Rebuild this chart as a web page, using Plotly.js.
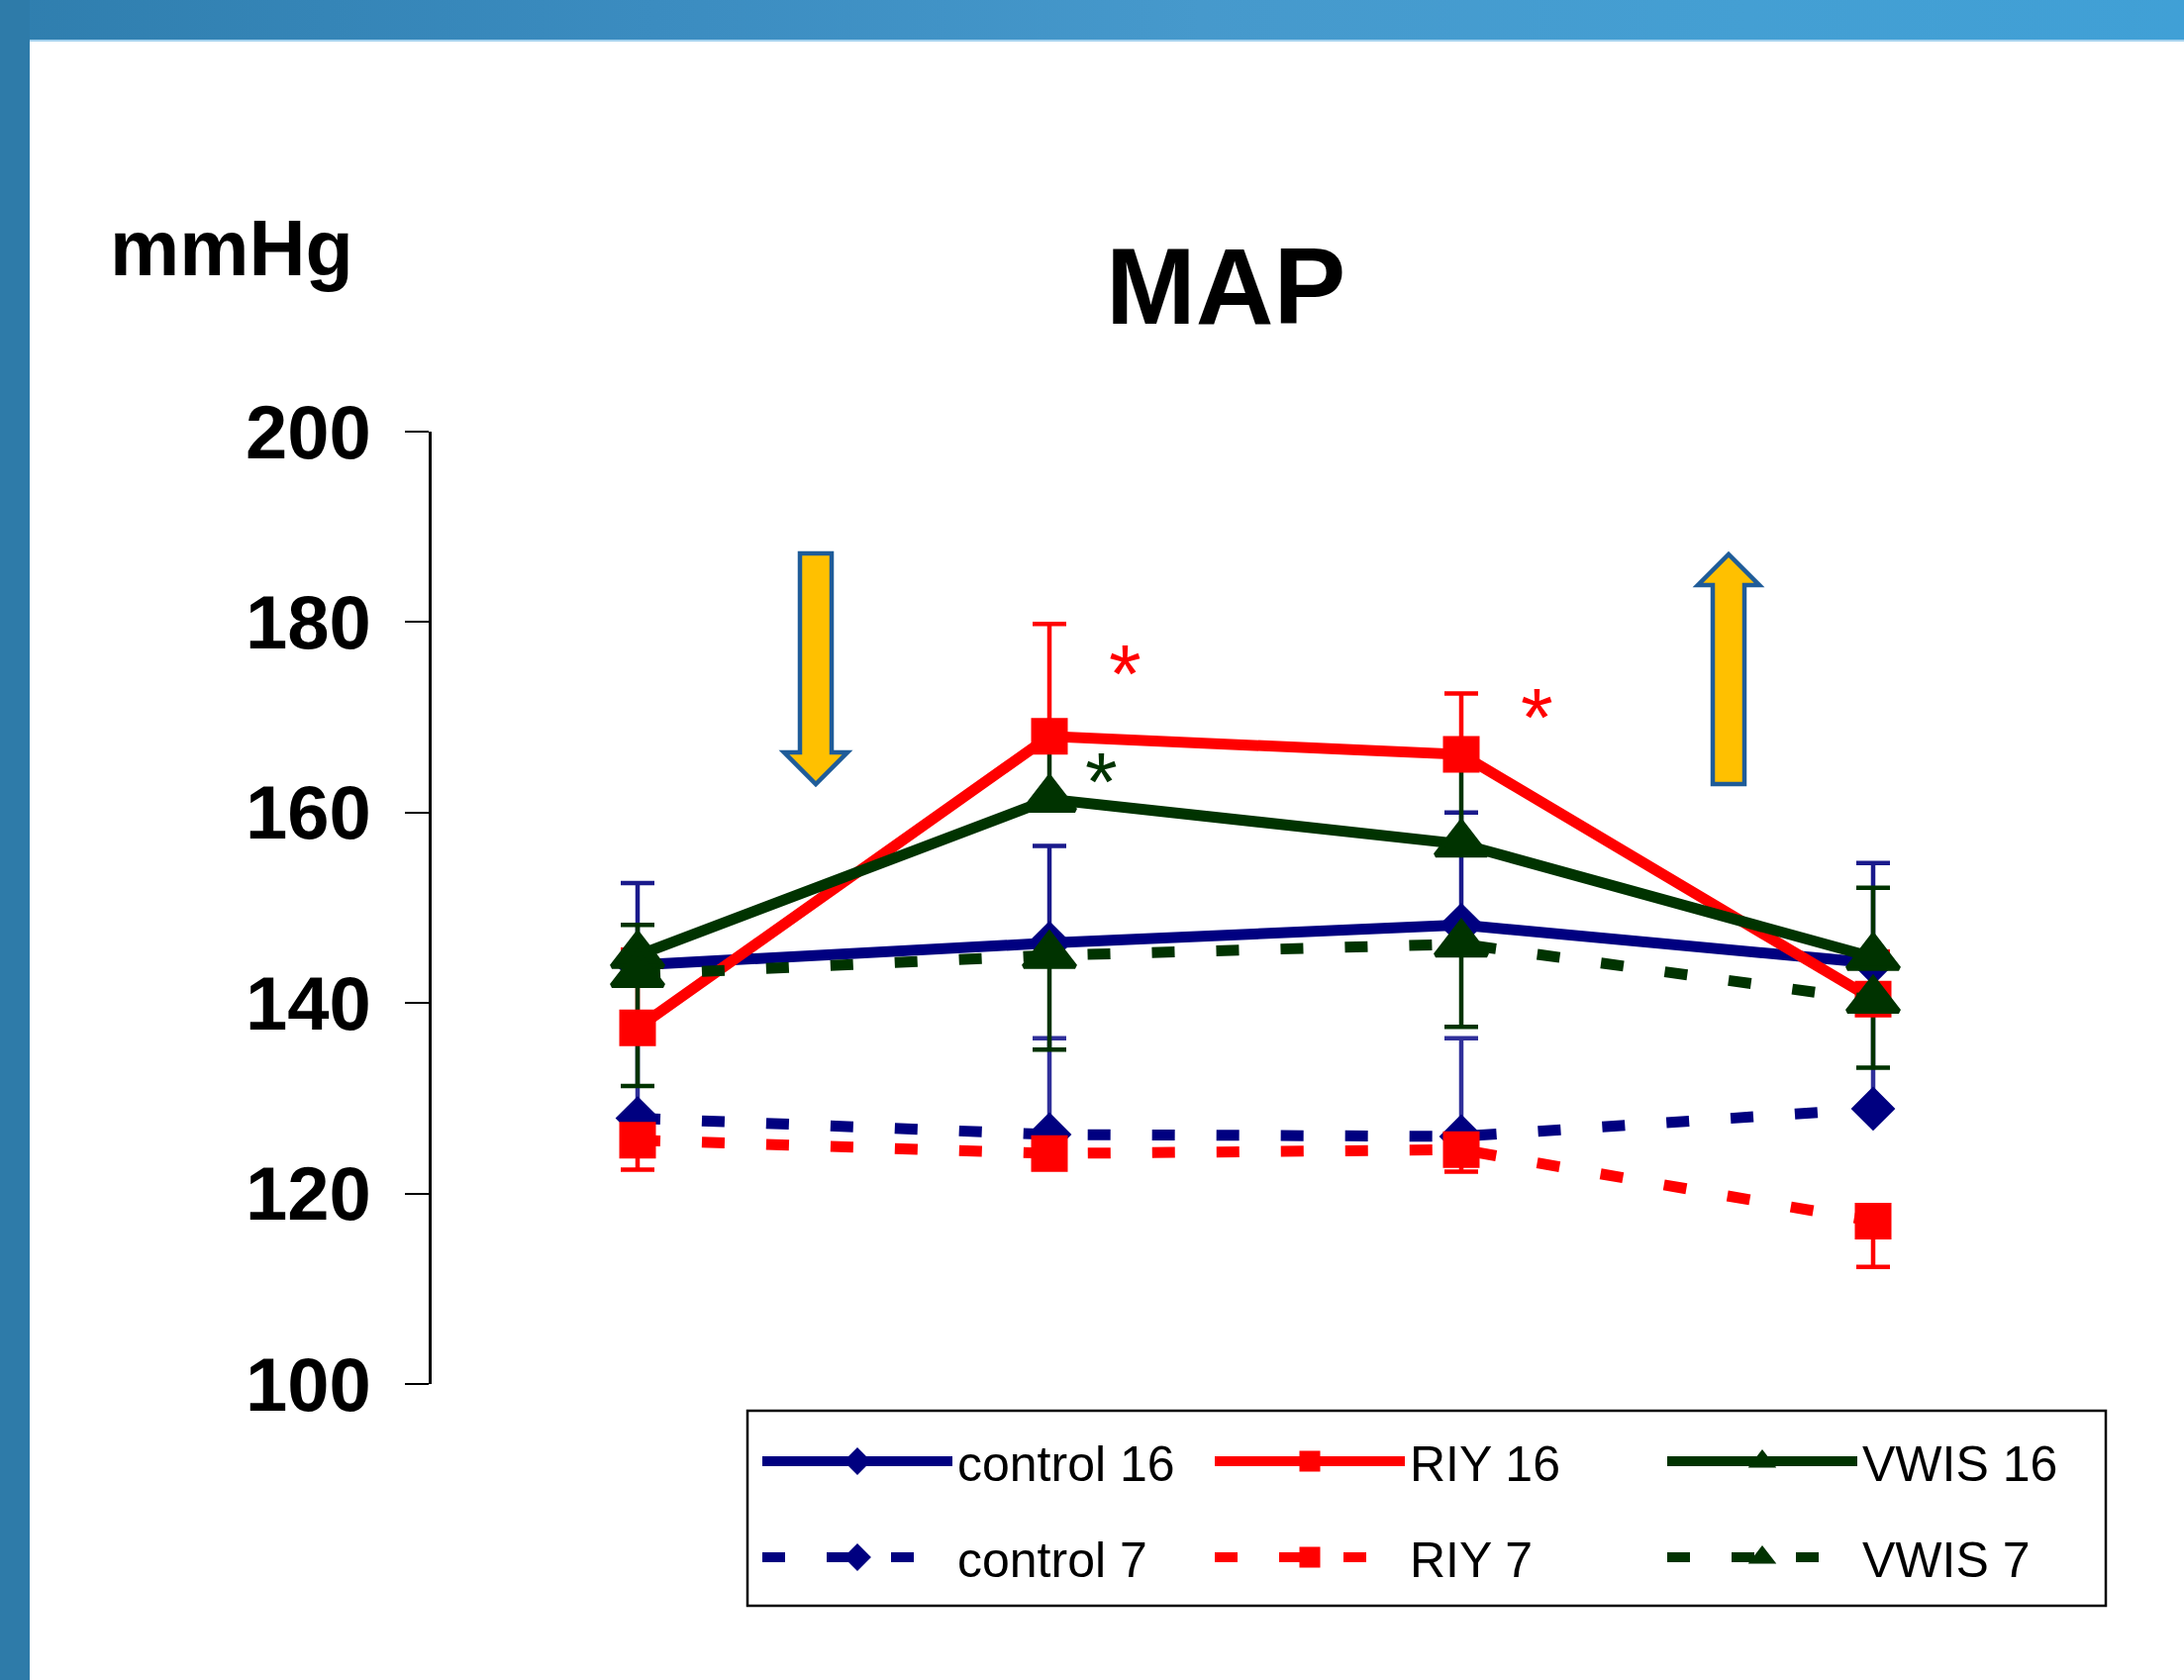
<!DOCTYPE html>
<html><head><meta charset="utf-8">
<script src="https://cdn.plot.ly/plotly-3.0.1.min.js"></script>
<style>
html,body{margin:0;padding:0;background:#fff;width:2206px;height:1697px;overflow:hidden}
#chart{position:absolute;left:0;top:0;width:2206px;height:1697px}
#topbar{position:absolute;left:0;top:0;width:2206px;height:40px;background:linear-gradient(to right,#2f7eae 0%,#3b8cc0 30%,#4699cc 55%,#449fd3 80%,#40a0d6 100%);border-bottom:2px solid #a5d2ee;z-index:2}
#leftbar{position:absolute;left:0;top:0;width:30px;height:1697px;background:#2e7ba9;z-index:3}
</style></head><body>
<div id="chart"></div><div id="topbar"></div><div id="leftbar"></div>
<script>
// ---- data ----
const timePoints = [0, 1, 2, 3];
const yTicks = [100, 120, 140, 160, 180, 200];

const control16 = [144.0, 146.3, 148.2, 144.2];
const control16Err = [8.6, 10.2, 11.8, 10.5];      // upward
const riy16 = [137.4, 168.0, 166.1, 140.4];
const riy16Err = [8.2, 11.8, 6.4, 5.0];            // upward
const vwis16 = [145.0, 161.4, 156.7, 144.8];
const vwis16Err = [3.2, 6.0, 9.5, 7.3];            // upward
const control7 = [127.9, 126.2, 126.0, 128.9];
const control7Err = [9.0, 10.1, 10.3, 10.0];       // upward
const riy7 = [125.6, 124.2, 124.6, 117.1];
const riy7Err = [3.1, 1.5, 2.3, 4.8];              // downward
const vwis7 = [143.0, 145.0, 146.2, 140.3];
const vwis7Err = [11.7, 9.9, 8.7, 7.1];            // downward

// ---- styling ----
const NAVY = '#000080', RED = '#ff0000', GREEN = '#003300';
const FONT = 'Liberation Sans, Arial, sans-serif';
const M = {l: 436, r: 106, t: 436, b: 299};
const W = 2206, H = 1697;
const PW = W - M.l - M.r, PH = H - M.t - M.b;
const px = x => (x - M.l) / PW;
const py = y => (H - M.b - y) / PH;

function errTrace(y, err, up, color) {
  return {
    x: timePoints, y: y, type: 'scatter', mode: 'markers',
    marker: {opacity: 0, size: 2}, showlegend: false, hoverinfo: 'skip',
    error_y: {type: 'data', symmetric: false,
      array: up ? err : err.map(() => 0),
      arrayminus: up ? err.map(() => 0) : err,
      color: color, thickness: 4.5, width: 17}
  };
}
function mainTrace(name, y, color, dash, symbol, size, legend) {
  return {
    x: timePoints, y: y, name: name, type: 'scatter', mode: 'lines+markers',
    line: {color: color, width: 11, dash: dash},
    marker: {color: color, symbol: symbol, size: size, line: {width: 5, color: color}},
    legend: legend, hoverinfo: 'skip'
  };
}
const DASH = '23px,42px';
const data = [
  errTrace(control16, control16Err, true, '#1a1a8c'),
  errTrace(riy16, riy16Err, true, RED),
  errTrace(vwis16, vwis16Err, true, GREEN),
  errTrace(control7, control7Err, true, '#30309a'),
  errTrace(riy7, riy7Err, false, RED),
  errTrace(vwis7, vwis7Err, false, GREEN),
  mainTrace('control 16', control16, NAVY, 'solid', 'diamond', 29, 'legend'),
  mainTrace('RIY 16', riy16, RED, 'solid', 'square', 32, 'legend'),
  mainTrace('VWIS 16', vwis16, GREEN, 'solid', 'triangle-up', 45, 'legend'),
  mainTrace('control 7', control7, NAVY, DASH, 'diamond', 29, 'legend2'),
  mainTrace('RIY 7', riy7, RED, DASH, 'square', 32, 'legend2'),
  mainTrace('VWIS 7', vwis7, GREEN, DASH, 'triangle-up', 45, 'legend2')
];

function arrowPath(pts) {
  return 'M' + pts.map(p => px(p[0]).toFixed(5) + ',' + py(p[1]).toFixed(5)).join(' L') + ' Z';
}
const downArrow = [[808,559],[840,559],[840,760],[856,760],[824,792],[792,760],[808,760]];
const upArrow = [[1730,792],[1762,792],[1762,591],[1777,591],[1746,560],[1715,591],[1730,591]];

const legendCommon = {
  orientation: 'h', xref: 'paper', yref: 'paper', xanchor: 'left', yanchor: 'middle',
  bgcolor: 'rgba(0,0,0,0)', borderwidth: 0, itemwidth: 192,
  entrywidth: 250, entrywidthmode: 'pixels',
  font: {family: FONT, size: 50, color: '#000'}
};

const layout = {
  width: W, height: H,
  margin: M,
  paper_bgcolor: 'rgba(0,0,0,0)', plot_bgcolor: 'rgba(0,0,0,0)',
  font: {family: FONT, color: '#000'},
  title: {text: 'MAP', font: {family: FONT, size: 109, weight: 'bold', color: '#000'},
    xref: 'container', yref: 'container', x: 1238 / W, xanchor: 'center',
    y: 1 - 289 / H, yanchor: 'middle'},
  xaxis: {range: [-0.5, 3.5], showline: false, showgrid: false, zeroline: false,
    showticklabels: false, ticks: '', fixedrange: true},
  yaxis: {range: [100, 200], tickvals: yTicks, ticktext: yTicks.map(String),
    showline: true, linecolor: '#000', linewidth: 3, ticks: 'outside', ticklen: 24,
    tickwidth: 2, tickcolor: '#000', showgrid: false, zeroline: false,
    ticklabelstandoff: 19,
    tickfont: {family: FONT, size: 76, weight: 'bold', color: '#000'}},
  showlegend: true,
  legend: Object.assign({}, legendCommon, {x: px(765), y: py(1476)}),
  legend2: Object.assign({}, legendCommon, {x: px(765), y: py(1573)}),
  shapes: [
    {type: 'path', xref: 'paper', yref: 'paper', path: arrowPath(downArrow),
      fillcolor: '#ffc000', line: {color: '#1f5c99', width: 4.5}},
    {type: 'path', xref: 'paper', yref: 'paper', path: arrowPath(upArrow),
      fillcolor: '#ffc000', line: {color: '#1f5c99', width: 4.5}},
    {type: 'rect', xref: 'paper', yref: 'paper', x0: px(755), x1: px(2127), y0: py(1622), y1: py(1425),
      line: {color: '#000', width: 2.5}, fillcolor: 'rgba(0,0,0,0)'}
  ],
  annotations: [
    {text: 'mmHg', xref: 'paper', yref: 'paper', x: px(109), y: py(250), xanchor: 'left', yanchor: 'middle',
      showarrow: false, font: {family: FONT, size: 79, weight: 'bold', color: '#000'}},
    {text: '*', xref: 'x', yref: 'y', x: 1.184, y: 174.5, showarrow: false,
      font: {family: FONT, size: 84, color: RED}},
    {text: '*', xref: 'x', yref: 'y', x: 2.185, y: 170.0, showarrow: false,
      font: {family: FONT, size: 84, color: RED}},
    {text: '*', xref: 'x', yref: 'y', x: 1.126, y: 163.2, showarrow: false,
      font: {family: FONT, size: 84, color: GREEN}}
  ]
};

Plotly.newPlot('chart', data, layout, {staticPlot: true, displayModeBar: false});
</script>
</body></html>
